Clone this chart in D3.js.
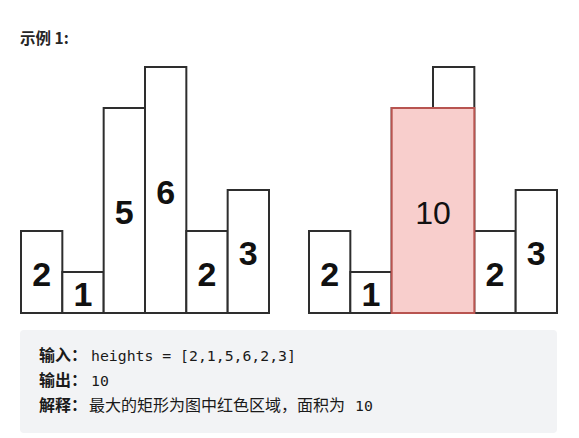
<!DOCTYPE html>
<html>
<head>
<meta charset="utf-8">
<script src="https://cdn.jsdelivr.net/npm/d3@7"></script>
<style>
  body { margin: 0; background: #fff; }
  svg { display: block; }
</style>
</head>
<body>
<div id="chart"></div>
<script>
// data
var heights = [2, 1, 5, 6, 2, 3];
var barIndex = d3.range(heights.length);
var best = {from: 2, to: 3, height: 5, area: 10};
var title = "示例 1:";
var lines = [
  {label: "输入：", text: "", code: "heights = [2,1,5,6,2,3]"},
  {label: "输出：", text: "", code: "10"},
  {label: "解释：", text: "最大的矩形为图中红色区域，面积为", code: "10"}
];

var width = 579, height = 438;
var stroke = "#2e2e2e";

var svg = d3.select("#chart")
  .append("svg")
  .attr("width", width)
  .attr("height", height);

svg.append("text")
  .attr("x", 20)
  .attr("y", 43.5)
  .style("font-family", "'Noto Sans CJK SC', sans-serif")
  .style("font-weight", "bold")
  .style("font-size", "15.5px")
  .attr("fill", "#262626")
  .text(title);

var y = d3.scaleLinear().domain([0, 6]).range([313, 67]);

var xLeft = d3.scaleBand().domain(barIndex).range([21, 269]).padding(0);
var xRight = d3.scaleBand().domain(barIndex).range([309, 557]).padding(0);

var digitFont = "'Liberation Sans', Arial, sans-serif";

function drawBars(g, x) {
  g.selectAll("rect.bar")
    .data(barIndex)
    .enter().append("rect")
    .attr("class", "bar")
    .attr("x", function(i) { return x(i); })
    .attr("y", function(i) { return y(heights[i]); })
    .attr("width", x.bandwidth())
    .attr("height", function(i) { return y(0) - y(heights[i]); })
    .attr("fill", "#fff")
    .attr("stroke", stroke)
    .attr("stroke-width", 2);
}

function drawLabels(g, x, idx) {
  g.selectAll("text.lab")
    .data(idx)
    .enter().append("text")
    .attr("class", "lab")
    .attr("x", function(i) { return x(i) + x.bandwidth() / 2; })
    .attr("y", function(i) { return (y(heights[i]) + y(0)) / 2 + 13.5; })
    .attr("text-anchor", "middle")
    .style("font-family", digitFont)
    .style("font-weight", "bold")
    .style("font-size", "34px")
    .attr("fill", "#111")
    .text(function(i) { return heights[i]; });
}

// left chart
var left = svg.append("g");
drawBars(left, xLeft);
drawLabels(left, xLeft, barIndex);

// right chart
var right = svg.append("g");
drawBars(right, xRight);
right.append("rect")
  .attr("x", xRight(best.from))
  .attr("y", y(best.height))
  .attr("width", xRight(best.to) + xRight.bandwidth() - xRight(best.from))
  .attr("height", y(0) - y(best.height))
  .attr("fill", "#f8cecc")
  .attr("stroke", "#b85450")
  .attr("stroke-width", 2);
drawLabels(right, xRight, barIndex.filter(function(i) { return i < best.from || i > best.to; }));
right.append("text")
  .attr("x", (xRight(best.from) + xRight(best.to) + xRight.bandwidth()) / 2)
  .attr("y", (y(best.height) + y(0)) / 2 + 13)
  .attr("text-anchor", "middle")
  .style("font-family", digitFont)
  .style("font-size", "32px")
  .attr("fill", "#111")
  .text(best.area);

// example box
svg.append("rect")
  .attr("x", 20)
  .attr("y", 330)
  .attr("width", 537)
  .attr("height", 103)
  .attr("rx", 4)
  .attr("fill", "#f2f3f5");

var rows = svg.selectAll("g.row")
  .data(lines)
  .enter().append("g")
  .attr("class", "row")
  .attr("transform", function(d, i) { return "translate(0," + (361 + i * 25) + ")"; });

rows.append("text")
  .attr("x", 39)
  .style("font-family", "'Noto Sans CJK SC', sans-serif")
  .style("font-weight", "bold")
  .style("font-size", "16px")
  .attr("fill", "#1a1a1a")
  .text(function(d) { return d.label; });

rows.append("text")
  .attr("x", 89)
  .style("font-family", "'Noto Sans CJK SC', sans-serif")
  .style("font-size", "16px")
  .attr("fill", "#1a1a1a")
  .text(function(d) { return d.text; });

rows.append("text")
  .attr("x", function(d) { return d.text ? 355 : 91; })
  .style("font-family", "'DejaVu Sans Mono', monospace")
  .style("font-size", "14.8px")
  .attr("fill", "#1a1a1a")
  .text(function(d) { return d.code; });
</script>
</body>
</html>
